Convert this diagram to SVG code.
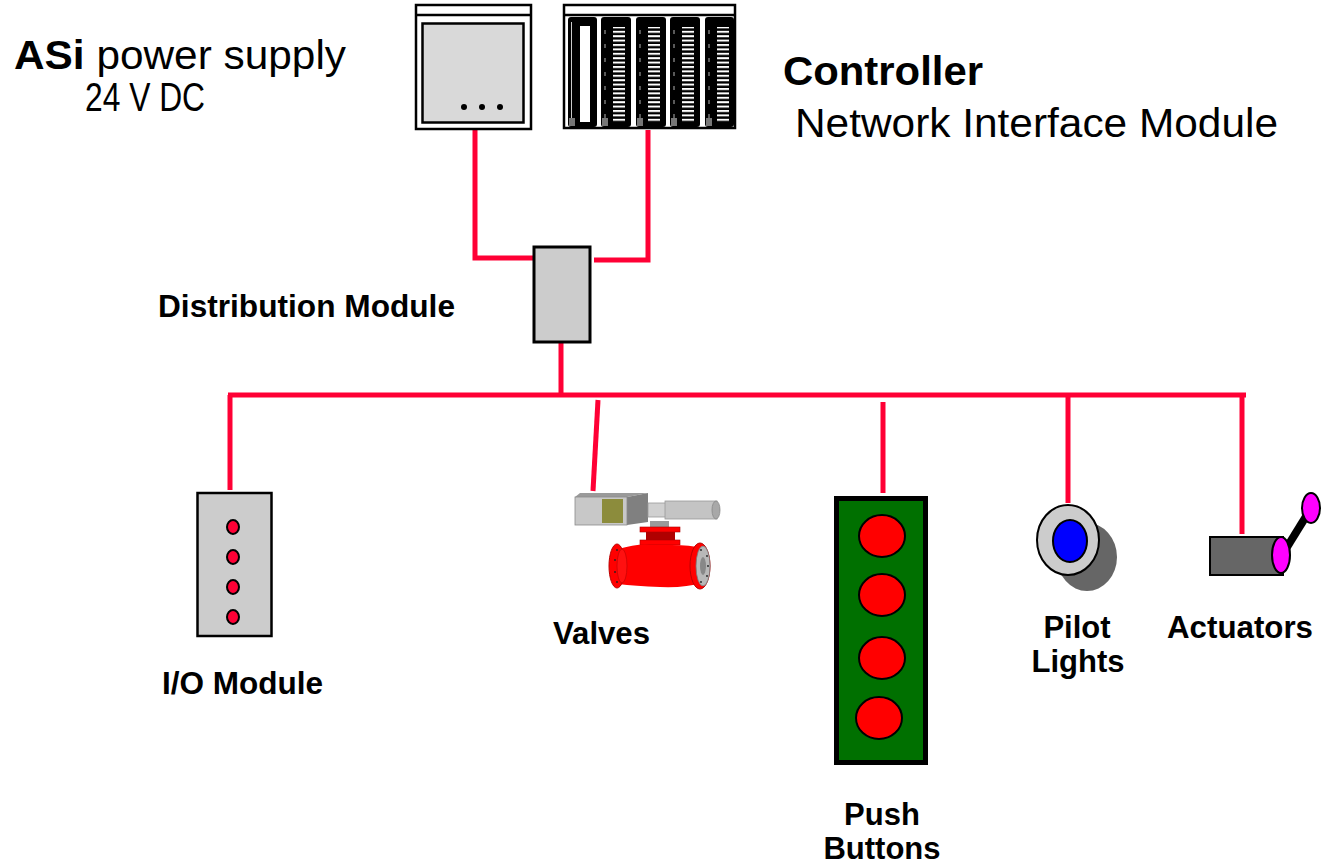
<svg xmlns="http://www.w3.org/2000/svg" width="1321" height="865" viewBox="0 0 1321 865">
  <style>
    .wire { stroke: #ff0035; stroke-width: 5; fill: none; }
    .lbl { font-family: "Liberation Sans", Arial, sans-serif; font-weight: bold; font-size: 31px; fill: #000; }
    .big { font-family: "Liberation Sans", Arial, sans-serif; font-size: 40px; fill: #000; }
    .frame { fill: #fff; stroke: #000; stroke-width: 2.5; }
    .slot { fill: #000; }
  </style>
  <defs>
    <pattern id="vents" x="0" y="0" width="12" height="4.4" patternUnits="userSpaceOnUse">
      <rect x="0" y="0" width="12" height="2" fill="#fff"/>
    </pattern>
  </defs>

  <rect width="1321" height="865" fill="#fff"/>

  <!-- titles -->
  <g id="title-power">
    <text class="big" x="14" y="69" textLength="332" lengthAdjust="spacingAndGlyphs"><tspan font-weight="bold">ASi</tspan> power supply</text>
    <text class="big" x="85" y="111" font-size="26" textLength="120" lengthAdjust="spacingAndGlyphs">24 V DC</text>
  </g>
  <g id="title-controller">
    <text class="big" x="783" y="85" font-weight="bold" textLength="200" lengthAdjust="spacingAndGlyphs">Controller</text>
    <text class="big" x="795" y="137" textLength="483" lengthAdjust="spacingAndGlyphs">Network Interface Module</text>
  </g>

  <!-- connectors -->
  <g id="connectors">
    <polyline class="wire" points="475,130 475,258 533,258"/>
    <polyline class="wire" points="648,130 648,260 594,260"/>
    <line class="wire" x1="561" y1="343" x2="561" y2="395"/>
    <line class="wire" x1="228" y1="395" x2="1246" y2="395"/>
    <line class="wire" x1="230" y1="395" x2="230" y2="490"/>
    <line class="wire" x1="598" y1="400" x2="593" y2="491"/>
    <line class="wire" x1="883" y1="402" x2="883" y2="493"/>
    <line class="wire" x1="1068" y1="395" x2="1068" y2="503"/>
    <line class="wire" x1="1242" y1="395" x2="1242" y2="534"/>
  </g>

  <!-- power supply -->
  <g id="power-supply">
    <rect class="frame" x="416" y="5" width="115" height="124"/>
    <line x1="416" y1="15" x2="531" y2="15" stroke="#000" stroke-width="2.5"/>
    <rect x="422.5" y="23.5" width="101" height="99" fill="#d9d9d9" stroke="#000" stroke-width="2.5"/>
    <circle cx="464" cy="107" r="3" fill="#000"/>
    <circle cx="482" cy="107" r="3" fill="#000"/>
    <circle cx="500" cy="107" r="3" fill="#000"/>
  </g>

  <!-- controller rack -->
  <g id="controller">
    <rect class="frame" x="564" y="5" width="171" height="123"/>
    <line x1="564" y1="15" x2="735" y2="15" stroke="#000" stroke-width="2.5"/>
    <!-- slot 1 -->
    <rect class="slot" x="568" y="17" width="29" height="110" rx="3"/>
    <rect x="580" y="26" width="10" height="96" fill="#fff"/>
    <line x1="571.5" y1="22" x2="571.5" y2="118" stroke="#fff" stroke-width="0.8"/>
    <path d="M569 118 h6 v8 h-6 z" fill="#777"/>
    <!-- slots 2-5 -->
    <g>
      <rect class="slot" x="601" y="17" width="30" height="110" rx="3"/>
      <rect x="613" y="27" width="12" height="95" fill="url(#vents)"/>
      <line x1="605" y1="30" x2="605" y2="118" stroke="#fff" stroke-width="0.7" stroke-dasharray="4 10"/>
      <path d="M602 118 h6 v8 h-6 z" fill="#777"/>
    </g>
    <g>
      <rect class="slot" x="636" y="17" width="30" height="110" rx="3"/>
      <rect x="648" y="27" width="12" height="95" fill="url(#vents)"/>
      <line x1="640" y1="30" x2="640" y2="118" stroke="#fff" stroke-width="0.7" stroke-dasharray="4 10"/>
      <path d="M637 118 h6 v8 h-6 z" fill="#777"/>
    </g>
    <g>
      <rect class="slot" x="670" y="17" width="30" height="110" rx="3"/>
      <rect x="682" y="27" width="12" height="95" fill="url(#vents)"/>
      <line x1="674" y1="30" x2="674" y2="118" stroke="#fff" stroke-width="0.7" stroke-dasharray="4 10"/>
      <path d="M671 118 h6 v8 h-6 z" fill="#777"/>
    </g>
    <g>
      <rect class="slot" x="705" y="17" width="29" height="110" rx="3"/>
      <rect x="717" y="27" width="12" height="95" fill="url(#vents)"/>
      <line x1="709" y1="30" x2="709" y2="118" stroke="#fff" stroke-width="0.7" stroke-dasharray="4 10"/>
      <path d="M706 118 h6 v8 h-6 z" fill="#777"/>
    </g>
  </g>

  <!-- distribution module -->
  <g id="distribution-module">
    <rect x="534" y="247" width="56" height="95" fill="#cccccc" stroke="#000" stroke-width="3"/>
    <text class="lbl" x="158" y="317" textLength="297" lengthAdjust="spacingAndGlyphs">Distribution Module</text>
  </g>

  <!-- I/O module -->
  <g id="io-module">
    <rect x="197.5" y="493" width="74" height="143" fill="#cccccc" stroke="#000" stroke-width="2.5"/>
    <ellipse cx="233" cy="527" rx="6" ry="7" fill="#ff0035" stroke="#000" stroke-width="2"/>
    <ellipse cx="233" cy="557" rx="6" ry="7" fill="#ff0035" stroke="#000" stroke-width="2"/>
    <ellipse cx="233" cy="587" rx="6" ry="7" fill="#ff0035" stroke="#000" stroke-width="2"/>
    <ellipse cx="233" cy="617" rx="6" ry="7" fill="#ff0035" stroke="#000" stroke-width="2"/>
    <text class="lbl" x="162" y="694" textLength="161" lengthAdjust="spacingAndGlyphs">I/O Module</text>
  </g>

  <!-- valve -->
  <g id="valve">
    <!-- actuator housing -->
    <path d="M575 497 L580 493 L648 493 L627 497 Z" fill="#9a9a9a"/>
    <path d="M627 497 L648 493 L648 522 L627 525 Z" fill="#808080"/>
    <rect x="575" y="497" width="52" height="28" fill="#c8c8c8" stroke="#8a8a8a" stroke-width="0.8"/>
    <rect x="602" y="499" width="21" height="24" fill="#8c8c3c"/>
    <!-- drive cylinder -->
    <rect x="648" y="503" width="22" height="14" fill="#d0d0d0" stroke="#999" stroke-width="0.8"/>
    <rect x="665" y="501" width="52" height="18" fill="#c4c4c4" stroke="#999" stroke-width="0.8"/>
    <ellipse cx="716" cy="510" rx="4" ry="9" fill="#a8a8a8" stroke="#888" stroke-width="0.8"/>
    <!-- stem and bonnet -->
    <rect x="650" y="521" width="19" height="7" fill="#9a9a9a"/>
    <rect x="640" y="527" width="40" height="5" fill="#ff0000" stroke="#a00" stroke-width="0.6"/>
    <rect x="646" y="532" width="29" height="9" fill="#b00000"/>
    <rect x="640" y="540" width="40" height="5" fill="#ff0000" stroke="#a00" stroke-width="0.6"/>
    <!-- body -->
    <path d="M615 550 Q640 543 650 545 L672 545 Q690 545 702 548 L702 583 Q685 588 660 587 Q635 586 618 584 Z" fill="#ff0000"/>
    <ellipse cx="617" cy="566" rx="8" ry="22" fill="#ff0000" stroke="#b00" stroke-width="1"/>
    <ellipse cx="622" cy="566" rx="5" ry="17" fill="#ff1010" stroke="#b00" stroke-width="0.6"/>
    <ellipse cx="700" cy="566" rx="10" ry="23" fill="#ff0000" stroke="#b00" stroke-width="1"/>
    <ellipse cx="703" cy="566" rx="7" ry="20" fill="#b8b8b8" stroke="#777" stroke-width="0.8"/>
    <ellipse cx="703" cy="566" rx="3" ry="9" fill="#888"/>
    <g fill="#222">
      <circle cx="617" cy="550" r="0.9"/><circle cx="615" cy="560" r="0.9"/><circle cx="615" cy="572" r="0.9"/><circle cx="617" cy="582" r="0.9"/>
      <circle cx="701" cy="550" r="0.9"/><circle cx="707" cy="556" r="0.9"/><circle cx="708" cy="566" r="0.9"/><circle cx="707" cy="576" r="0.9"/><circle cx="701" cy="582" r="0.9"/>
    </g>
    <text class="lbl" x="553" y="644" textLength="97" lengthAdjust="spacingAndGlyphs">Valves</text>
  </g>

  <!-- push buttons -->
  <g id="push-buttons">
    <rect x="836.5" y="498.5" width="89" height="264" fill="#007000" stroke="#000" stroke-width="5"/>
    <ellipse cx="882" cy="536" rx="23" ry="21" fill="#ff0000" stroke="#000" stroke-width="2"/>
    <ellipse cx="882" cy="595" rx="23" ry="21" fill="#ff0000" stroke="#000" stroke-width="2"/>
    <ellipse cx="882" cy="658" rx="23" ry="21" fill="#ff0000" stroke="#000" stroke-width="2"/>
    <ellipse cx="879" cy="718" rx="23" ry="21" fill="#ff0000" stroke="#000" stroke-width="2"/>
    <text class="lbl" x="882" y="825" text-anchor="middle">Push</text>
    <text class="lbl" x="882" y="859" text-anchor="middle">Buttons</text>
  </g>

  <!-- pilot light -->
  <g id="pilot-lights">
    <ellipse cx="1087" cy="557" rx="30" ry="34" fill="#666"/>
    <ellipse cx="1068" cy="540" rx="31" ry="35" fill="#cccccc" stroke="#000" stroke-width="2"/>
    <ellipse cx="1070" cy="541" rx="17" ry="21" fill="#0000ff" stroke="#000" stroke-width="2"/>
    <text class="lbl" x="1077" y="638" text-anchor="middle">Pilot</text>
    <text class="lbl" x="1078" y="672" text-anchor="middle">Lights</text>
  </g>

  <!-- actuator -->
  <g id="actuators">
    <line x1="1284" y1="552" x2="1310" y2="510" stroke="#000" stroke-width="8"/>
    <rect x="1210" y="537" width="73" height="38" fill="#666" stroke="#000" stroke-width="2"/>
    <ellipse cx="1281" cy="555" rx="9" ry="18" fill="#ff00ff" stroke="#000" stroke-width="2"/>
    <ellipse cx="1311" cy="508" rx="9" ry="15" fill="#ff00ff" stroke="#000" stroke-width="2"/>
    <text class="lbl" x="1167" y="638" textLength="146" lengthAdjust="spacingAndGlyphs">Actuators</text>
  </g>
</svg>
